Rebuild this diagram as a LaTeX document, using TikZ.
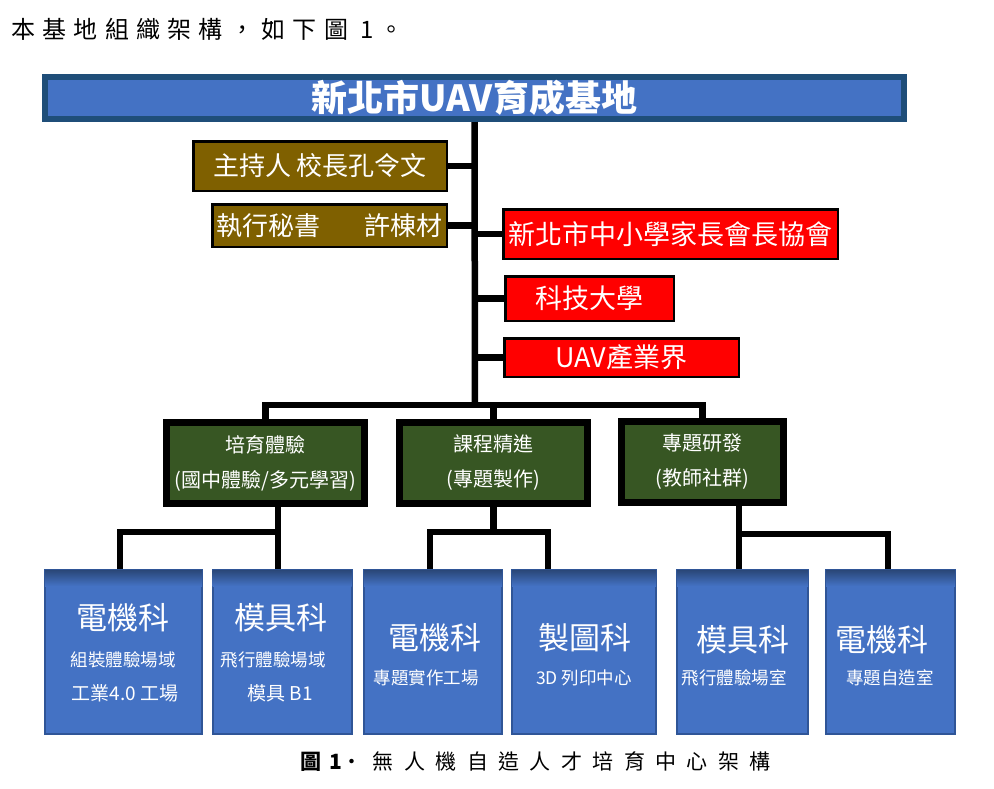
\documentclass[tikz,border=0pt]{standalone}
\usepackage{fontspec}
\newfontfamily\cjk{Noto Sans CJK TC}
\usetikzlibrary{calc}
\definecolor{titlefill}{HTML}{4472C4}
\definecolor{titleedge}{HTML}{1F4E79}
\definecolor{brownc}{HTML}{7F6000}
\definecolor{redc}{HTML}{FF0000}
\definecolor{greenc}{HTML}{375623}
\definecolor{bluefill}{HTML}{4472C4}
\definecolor{blueedge}{HTML}{2F5597}
\definecolor{bluetop}{HTML}{2A4778}
\newcommand\hsa{\hspace{7.3pt}}
\newcommand\hsb{\hspace{10.4pt}}
\begin{document}
\begin{tikzpicture}[x=1pt,y=-1pt,
  conn/.style={draw=black, line width=6.5pt, line join=miter},
  box/.style={draw=black, line width=2.5pt, text=white, inner sep=0pt,
    font={\cjk\fontsize{26}{30}\selectfont}},
  brownbox/.style={box, fill=brownc},
  redbox/.style={box, fill=redc, font={\cjk\fontsize{27}{30}\selectfont}},
  greenbox/.style={draw=black, line width=7pt, fill=greenc, text=white,
    inner sep=0pt, align=center, minimum height=81pt,
    font={\cjk\fontsize{20}{35}\selectfont}},
  bluebox/.style={draw=blueedge, line width=2pt, fill=bluefill, inner sep=0pt,
    minimum height=164pt},
  bigt/.style={text=white, inner sep=0pt, font={\cjk\fontsize{31}{31}\selectfont}},
  smallt/.style={text=white, inner sep=0pt, font={\cjk\fontsize{17.5}{18}\selectfont}},
  midt/.style={text=white, inner sep=0pt, font={\cjk\fontsize{19}{19}\selectfont}}
]
\useasboundingbox (0,0) rectangle (994,788);

% heading
\node[anchor=west, inner sep=0pt, font={\cjk\fontsize{24}{24}\selectfont}] (head) at (11,29)
  {本\hsa 基\hsa 地\hsa 組\hsa 織\hsa 架\hsa 構\hsa ，\hsa 如\hsa 下\hsa 圖\hspace{12pt}1\hspace{6pt}。};

% title
\node[draw=titleedge, line width=6pt, fill=titlefill, text=white, inner sep=0pt,
  minimum width=859pt, minimum height=42pt,
  font={\cjk\bfseries\fontsize{36}{36}\selectfont}] (title) at (474.5,98) {新北市UAV育成基地};

% brown boxes
\node[brownbox, minimum width=253.5pt, minimum height=49.5pt] (p1) at (320,166) {主持人 校長孔令文};
\node[brownbox, minimum width=234.5pt, minimum height=42.5pt] (p2) at (329.5,225.5) {執行秘書\hspace{45pt}許棟材};

% red boxes
\node[redbox, minimum width=334.5pt, minimum height=49.5pt] (r1) at (670.5,234) {新北市中小學家長會長協會};
\node[redbox, minimum width=168.5pt, minimum height=44.5pt] (r2) at (589.5,298.5) {科技大學};
\node[redbox, minimum width=234.5pt, minimum height=38.5pt] (r3) at (621.5,357.5) {UAV產業界};

% green boxes
\node[greenbox, minimum width=198pt] (g1) at (265.5,463) {培育體驗\\(國中體驗/多元學習)};
\node[greenbox, minimum width=188pt] (g2) at (493.5,463) {課程精進\\(專題製作)};
\node[greenbox, minimum width=162pt] (g3) at (702.5,462) {專題研發\\(教師社群)};

% blue boxes
\node[bluebox, minimum width=157pt] (b1) at (123.5,652) {};
\node[bluebox, minimum width=139pt] (b2) at (282,652) {};
\node[bluebox, minimum width=138pt] (b3) at (433,652) {};
\node[bluebox, minimum width=144pt] (b4) at (584,652) {};
\node[bluebox, minimum width=131pt] (b5) at (742.5,652) {};
\node[bluebox, minimum width=129pt] (b6) at (890.5,652) {};
\foreach \b in {b1,b2,b3,b4,b5,b6}{
  \shade[top color=bluetop, bottom color=bluefill]
    ($(\b.north west)+(1,1)$) rectangle ($(\b.north east)+(-1,17)$);
}

% blue box texts
\node[bigt] (t1a) at (123,618) {電機科};
\node[smallt] (t1b) at (123,660) {組裝體驗場域};
\node[midt] (t1c) at (125,693) {工業4.0 工場};
\node[bigt] (t2a) at (281,618) {模具科};
\node[smallt] (t2b) at (273,660) {飛行體驗場域};
\node[midt] (t2c) at (280,693) {模具 B1};
\node[bigt] (t3a) at (435,638) {電機科};
\node[smallt] (t3b) at (426,678) {專題實作工場};
\node[bigt] (t4a) at (585,638) {製圖科};
\node[smallt] (t4b) at (584,678) {3D 列印中心};
\node[bigt] (t5a) at (743,640) {模具科};
\node[smallt] (t5b) at (734,678) {飛行體驗場室};
\node[bigt] (t6a) at (882,640) {電機科};
\node[smallt] (t6b) at (890,678) {專題自造室};

% connector coordinates
\coordinate (bus1) at (475,405);
\coordinate (x1) at (120,532);
\coordinate (x2) at (278,532);
\coordinate (x3) at (430,532);
\coordinate (x5) at (548,532);
\coordinate (x6) at (739,534);
\coordinate (x7) at (888,534);

% connectors
\draw[conn] (title.south) -- (bus1);
\draw[conn] (p1.east) -- (p1.east -| bus1);
\draw[conn] (p2.east) -- (p2.east -| bus1);
\draw[conn] (r1.west -| bus1) -- (r1.west);
\draw[conn] (r2.west -| bus1) -- (r2.west);
\draw[conn] (r3.west -| bus1) -- (r3.west);
\draw[conn] (g1.north) |- (bus1) -| (g3.north);
\draw[conn] (g2.north) -- (g2.north |- bus1);

\draw[conn] (g1.south -| x2) -- (x2 |- b2.north);
\draw[conn] (x2) -| (x1 |- b1.north);
\draw[conn] (g2.south) -- (g2.south |- x3);
\draw[conn] (x3 |- b3.north) -- (x3) -- (x5) -- (x5 |- b4.north);
\draw[conn] (g3.south -| x6) -- (x6 |- b5.north);
\draw[conn] (x6) -| (x7 |- b6.north);

% caption
\node[anchor=west, inner sep=0pt, font={\cjk\fontsize{21}{21}\selectfont}] (cap) at (300,762)
  {\textbf{圖\hspace{8pt}1}·\hspace{10pt}無\hsb 人\hsb 機\hsb 自\hsb 造\hsb 人\hsb 才\hsb 培\hsb 育\hsb 中\hsb 心\hsb 架\hsb 構};
\end{tikzpicture}
\end{document}
